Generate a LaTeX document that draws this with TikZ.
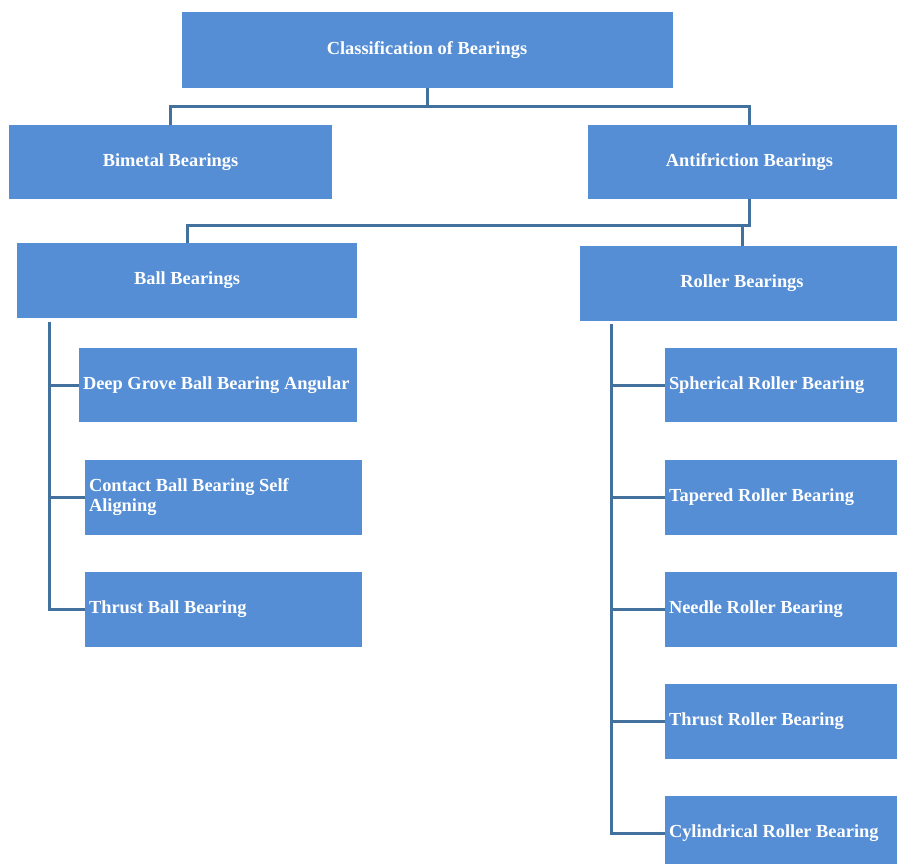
\documentclass[tikz,border=0pt]{standalone}
\usepackage{fontspec}
\setmainfont{Liberation Serif}
\definecolor{boxblue}{HTML}{558ED5}
\definecolor{linkblue}{HTML}{41719C}

\begin{document}
\begin{tikzpicture}[x=1pt,y=-1pt,
  box/.style={fill=boxblue,text=white,font=\fontsize{18.4}{20}\selectfont\bfseries,inner sep=0pt,minimum height=#1},
  box/.default=75pt,
  leafbox/.style={box,text width=#1,align=flush left,inner xsep=4pt},
  link/.style={draw=linkblue,line width=3pt,line cap=butt,line join=miter}]
% 897 x 864, classification tree
\useasboundingbox (0,0) rectangle (897,864);
\node[box=76pt,minimum width=491pt] (root) at (427,50) {Classification of Bearings};
\node[box=74pt,minimum width=323pt] (bimetal) at (170.5,162) {Bimetal Bearings};
\node[box=74pt,minimum width=323pt] (anti) at (749.5,162) {Antifriction Bearings};
\node[box,minimum width=340pt] (ball) at (187,280.5) {Ball Bearings};
\node[box,minimum width=324pt] (roller) at (742,283.5) {Roller Bearings};
% ball bearing leaves
\node[leafbox=270pt,minimum height=74pt] (deep) at (218,385) {Deep Grove Ball Bearing Angular};
\node[leafbox=269pt] (contact) at (223.5,497.5) {Contact Ball Bearing Self\\Aligning};
\node[leafbox=269pt] (thrustb) at (223.5,609) {Thrust Ball Bearing};
% roller bearing leaves
\node[leafbox=224pt,minimum height=74pt] (spher) at (781,385) {Spherical Roller Bearing};
\node[leafbox=224pt] (taper) at (781,497.5) {Tapered Roller Bearing};
\node[leafbox=224pt] (needle) at (781,609) {Needle Roller Bearing};
\node[leafbox=224pt] (thrustr) at (781,721) {Thrust Roller Bearing};
\node[leafbox=224pt] (cylin) at (781,833) {Cylindrical Roller Bearing};
% connectors
\draw[link] (root.south) -- ++(0,18) -| (bimetal.north);
\draw[link] (root.south) -- ++(0,18) -| (anti.north);
\draw[link] (anti.south) -- ++(0,26) -| (ball.north);
\draw[link] (anti.south) ++(0,26) -| (roller.north);
\coordinate (ballrail) at (49,322);
\coordinate (rollrail) at (611,324);
\draw[link] (ballrail) |- (deep.west);
\draw[link] (ballrail) |- (contact.west);
\draw[link] (ballrail) |- (thrustb.west);
\draw[link] (rollrail) |- (spher.west);
\draw[link] (rollrail) |- (taper.west);
\draw[link] (rollrail) |- (needle.west);
\draw[link] (rollrail) |- (thrustr.west);
\draw[link] (rollrail) |- (cylin.west);
\end{tikzpicture}
\end{document}
